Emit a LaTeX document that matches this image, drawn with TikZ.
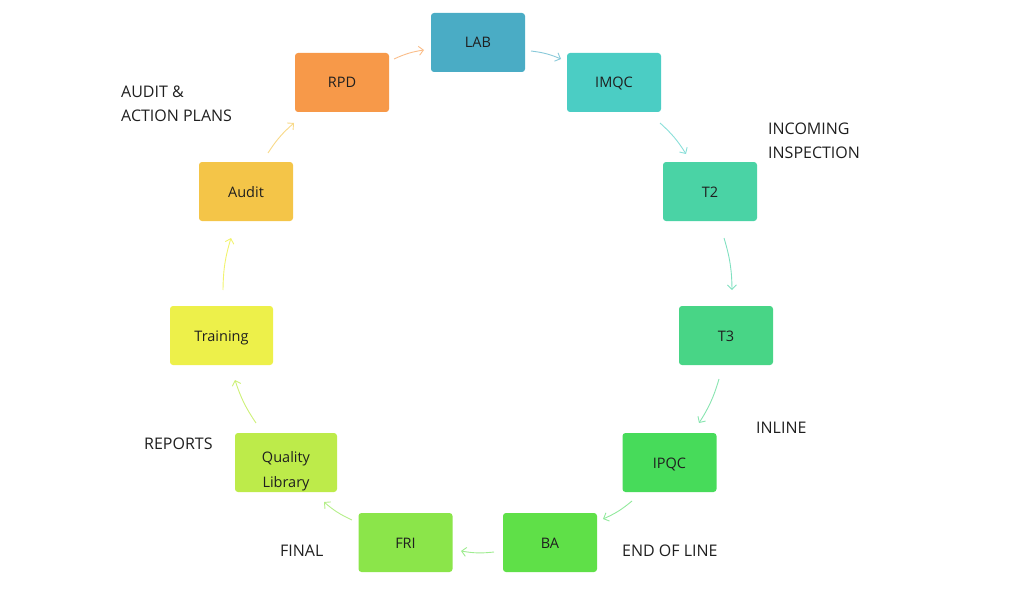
\documentclass[tikz,border=0pt]{standalone}
\usepackage{fontspec}
\setmainfont{Open Sans}
\usetikzlibrary{arrows.meta}
\definecolor{cLAB}{HTML}{4AACC5}
\definecolor{cIMQC}{HTML}{4BCDC4}
\definecolor{cTtwo}{HTML}{4AD3A5}
\definecolor{cTthree}{HTML}{48D586}
\definecolor{cIPQC}{HTML}{47DB5A}
\definecolor{cBA}{HTML}{5FE048}
\definecolor{cFRI}{HTML}{8BE54A}
\definecolor{cQL}{HTML}{BDEB4A}
\definecolor{cTR}{HTML}{EDF04A}
\definecolor{cAU}{HTML}{F4C548}
\definecolor{cRPD}{HTML}{F79949}
\definecolor{txt}{HTML}{1F1F1F}
\newcommand{\boxtxt}[1]{\raisebox{-5.5pt}[0pt][0pt]{#1}}
\tikzset{
  box/.style={rounded corners=3pt, minimum width=94pt, minimum height=59pt, inner sep=0pt,
    text=txt, font=\fontsize{14.5}{24}\selectfont, align=center},
  lbl/.style={anchor=west, text=txt, font=\fontsize{16}{24}\selectfont, align=left, inner sep=0pt},
  conn/.style={line width=0.9pt, -{Straight Barb[length=4.5pt,width=9pt]}, bend left=8},
}
\begin{document}
\begin{tikzpicture}[x=1pt,y=-1pt]
\useasboundingbox (0,0) rectangle (1019,591);
\node[box, fill=cLAB] (lab) at (478,42.5) {\boxtxt{LAB}};
\node[box, fill=cIMQC] (imqc) at (614,82.5) {\boxtxt{IMQC}};
\node[box, fill=cTtwo] (t2) at (710,191.5) {\boxtxt{T2}};
\node[box, fill=cTthree] (t3) at (726,335.5) {\boxtxt{T3}};
\node[box, fill=cIPQC] (ipqc) at (669.5,462.5) {\boxtxt{IPQC}};
\node[box, fill=cBA] (ba) at (550,542.5) {\boxtxt{BA}};
\node[box, fill=cFRI] (fri) at (405.5,542.5) {\boxtxt{FRI}};
\node[box, fill=cQL, minimum width=102pt] (ql) at (286,462.5) {\raisebox{-11pt}[0pt][0pt]{\begin{tabular}{@{}c@{}}Quality\\[1pt]Library\end{tabular}}};
\node[box, fill=cTR, minimum width=103pt] (tr) at (221.5,335.5) {\boxtxt{Training}};
\node[box, fill=cAU] (au) at (246,191.5) {\boxtxt{Audit}};
\node[box, fill=cRPD] (rpd) at (342,82.5) {\boxtxt{RPD}};

\coordinate (a1s) at (394,59); \coordinate (a1e) at (424,50);
\coordinate (a2s) at (531,51); \coordinate (a2e) at (561,59);
\coordinate (a3s) at (660,123); \coordinate (a3e) at (686,154);
\coordinate (a4s) at (724,238); \coordinate (a4e) at (732,290);
\coordinate (a5s) at (719,379); \coordinate (a5e) at (699,423);
\coordinate (a6s) at (632,501); \coordinate (a6e) at (603,519);
\coordinate (a7s) at (494,552); \coordinate (a7e) at (461,551);
\coordinate (a8s) at (352,520); \coordinate (a8e) at (324,502);
\coordinate (a9s) at (256,423); \coordinate (a9e) at (235,380);
\coordinate (a10s) at (223,290); \coordinate (a10e) at (231,238);
\coordinate (a11s) at (268,153); \coordinate (a11e) at (294,123);

\draw[conn, draw=cRPD!65] (a1s) to (a1e);
\draw[conn, draw=cLAB!65] (a2s) to (a2e);
\draw[conn, draw=cIMQC!65] (a3s) to (a3e);
\draw[conn, draw=cTtwo!70] (a4s) to (a4e);
\draw[conn, draw=cTthree!65] (a5s) to (a5e);
\draw[conn, draw=cIPQC!60] (a6s) to (a6e);
\draw[conn, draw=cBA!60] (a7s) to (a7e);
\draw[conn, draw=cFRI!65] (a8s) to (a8e);
\draw[conn, draw=cQL!75] (a9s) to (a9e);
\draw[conn, draw=cTR!80] (a10s) to (a10e);
\draw[conn, draw=cAU!65] (a11s) to (a11e);

\node[lbl] (l1) at (121,104) {AUDIT \&\\ACTION PLANS};
\node[lbl] (l2) at (768,141) {INCOMING\\INSPECTION};
\node[lbl] (l3) at (756,428) {INLINE};
\node[lbl] (l4) at (622,551) {END OF LINE};
\node[lbl] (l5) at (280,551) {FINAL};
\node[lbl] (l6) at (144,444) {REPORTS};
\end{tikzpicture}
\end{document}
